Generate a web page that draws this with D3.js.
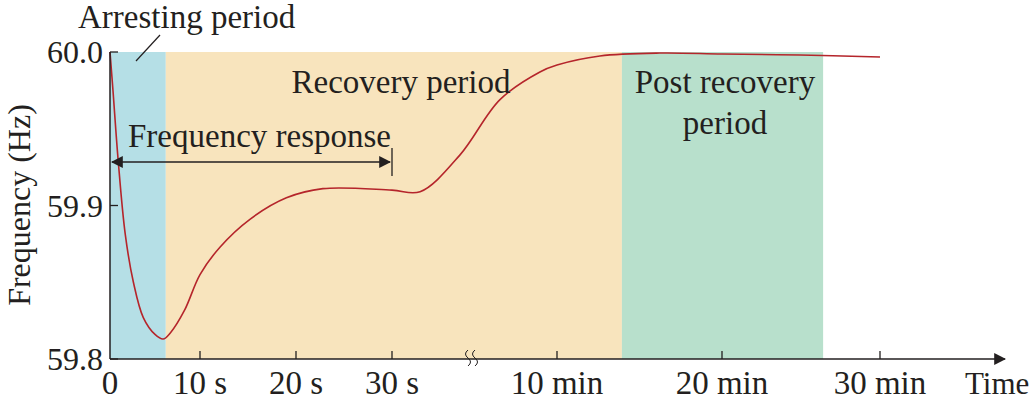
<!doctype html>
<html>
<head>
<meta charset="utf-8">
<script src="https://d3js.org/d3.v7.min.js"></script>
<style>
  body { margin: 0; background: #fff; }
  text { font-family: "Liberation Serif", "Times New Roman", serif; fill: #231f20; }
</style>
</head>
<body>
<div id="chart"></div>
<script>
// time in seconds (axis is broken between 30 s and 10 min), frequency in Hz
var times = [0, 0.33, 0.9, 1.7, 2.6, 3.7, 5, 5.9, 6.7, 8.3, 10, 12.1, 15.2, 19, 22.8, 30, 127, 265, 403, 541, 600, 756, 974, 1200, 1496, 1800];
var freqs = [60.0, 59.975, 59.930, 59.881, 59.850, 59.827, 59.816, 59.813, 59.817, 59.832, 59.855, 59.873, 59.891, 59.905, 59.911, 59.910, 59.909, 59.933, 59.969, 59.987, 59.9915, 59.9974, 59.9993, 59.9987, 59.998, 59.9967];
var tickTimes = [0, 10, 20, 30, 600, 1200, 1800];
var tickLabels = ["0", "10 s", "20 s", "30 s", "10 min", "20 min", "30 min"];
var yTicks = [59.8, 59.9, 60.0];
var periods = [
  {name: "arresting", from: 0, to: 6.2, color: "#b5dfe6"},
  {name: "recovery", from: 6.2, to: 836, color: "#f8e4bd"},
  {name: "post", from: 836, to: 1584, color: "#b8e0cc"}
];

var W = 1031, H = 407;
var svg = d3.select("#chart").append("svg").attr("width", W).attr("height", H);

var x = d3.scaleLinear().domain(tickTimes).range([110, 200, 296, 392, 557, 722, 880]);
var y = d3.scaleLinear().domain([59.8, 60.0]).range([359, 52]);

svg.selectAll("rect.period").data(periods).enter().append("rect")
  .attr("x", function (d) { return x(d.from); })
  .attr("width", function (d) { return x(d.to) - x(d.from); })
  .attr("y", y(60.0)).attr("height", y(59.8) - y(60.0))
  .attr("fill", function (d) { return d.color; });

var line = d3.line()
  .x(function (d, i) { return x(times[i]); })
  .y(function (d) { return y(d); })
  .curve(d3.curveCatmullRom.alpha(0.5));
svg.append("path").datum(freqs).attr("d", line)
  .attr("fill", "none").attr("stroke", "#b5252b").attr("stroke-width", 1.6);

// axes
var defs = svg.append("defs");
defs.append("marker").attr("id", "ah").attr("viewBox", "0 0 10 10").attr("refX", 9).attr("refY", 5)
  .attr("markerWidth", 12).attr("markerHeight", 12).attr("markerUnits", "userSpaceOnUse").attr("orient", "auto-start-reverse")
  .append("path").attr("d", "M0,0 L10,5 L0,10 z").attr("fill", "#231f20");

svg.append("line").attr("x1", 110).attr("x2", 1005).attr("y1", 359).attr("y2", 359)
  .attr("stroke", "#231f20").attr("stroke-width", 1.5).attr("marker-end", "url(#ah)");
svg.append("line").attr("x1", 110).attr("x2", 110).attr("y1", 52).attr("y2", 359)
  .attr("stroke", "#231f20").attr("stroke-width", 1.5);

svg.selectAll("line.xt").data(tickTimes.slice(1)).enter().append("line")
  .attr("x1", function (d) { return x(d); }).attr("x2", function (d) { return x(d); })
  .attr("y1", 359).attr("y2", 351).attr("stroke", "#231f20").attr("stroke-width", 1.3);
svg.selectAll("text.xt").data(tickTimes).enter().append("text")
  .attr("x", function (d) { return x(d); }).attr("y", 394)
  .attr("text-anchor", "middle").attr("font-size", 33)
  .text(function (d, i) { return tickLabels[i]; });

svg.selectAll("line.yt").data(yTicks).enter().append("line")
  .attr("x1", 110).attr("x2", 118)
  .attr("y1", function (d) { return y(d); }).attr("y2", function (d) { return y(d); })
  .attr("stroke", "#231f20").attr("stroke-width", 1.3);
svg.selectAll("text.yt").data(yTicks).enter().append("text")
  .attr("x", 103).attr("y", function (d) { return y(d) + 11; })
  .attr("text-anchor", "end").attr("font-size", 32)
  .text(function (d) { return d.toFixed(1); });

// axis break marks
[466, 473].forEach(function (bx) {
  svg.append("path").attr("d", "M" + (bx + 2) + ",350 q-5,4 0,8 q5,4 0,8")
    .attr("fill", "none").attr("stroke", "#231f20").attr("stroke-width", 1);
});

svg.append("text").attr("transform", "translate(30,205) rotate(-90)")
  .attr("text-anchor", "middle").attr("font-size", 32).text("Frequency (Hz)");
svg.append("text").attr("x", 965).attr("y", 394).attr("font-size", 31).text("Time");

// annotations
svg.append("text").attr("x", 78).attr("y", 28).attr("font-size", 33).text("Arresting period");
svg.append("line").attr("x1", 136).attr("y1", 61).attr("x2", 160).attr("y2", 35)
  .attr("stroke", "#231f20").attr("stroke-width", 1.2);
svg.append("text").attr("x", 401).attr("y", 93).attr("text-anchor", "middle").attr("font-size", 33).text("Recovery period");
svg.append("text").attr("x", 725).attr("y", 93).attr("text-anchor", "middle").attr("font-size", 33).text("Post recovery");
svg.append("text").attr("x", 725).attr("y", 134).attr("text-anchor", "middle").attr("font-size", 33).text("period");
svg.append("text").attr("x", 128).attr("y", 147).attr("font-size", 33).text("Frequency response");
svg.append("line").attr("x1", 112).attr("x2", 390).attr("y1", 162).attr("y2", 162)
  .attr("stroke", "#231f20").attr("stroke-width", 1.3)
  .attr("marker-start", "url(#ah)").attr("marker-end", "url(#ah)");
svg.append("line").attr("x1", x(30)).attr("x2", x(30)).attr("y1", 148).attr("y2", 176)
  .attr("stroke", "#231f20").attr("stroke-width", 1.3);
</script>
</body>
</html>
